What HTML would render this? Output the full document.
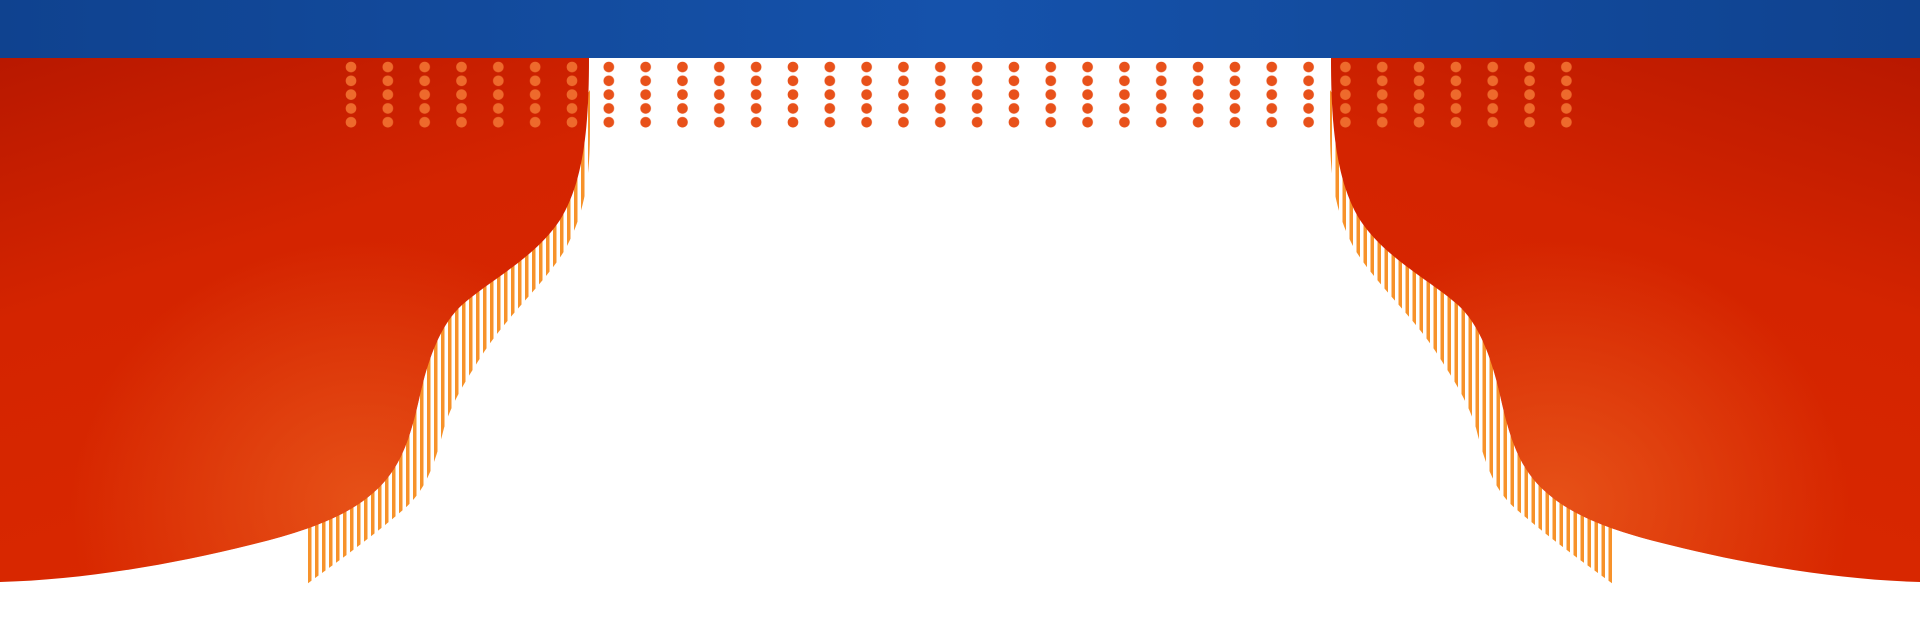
<!DOCTYPE html>
<html><head><meta charset="utf-8"><style>
html,body{margin:0;padding:0;background:#fff;width:1920px;height:621px;overflow:hidden}
svg{display:block}
</style></head><body>
<svg width="1920" height="621" viewBox="0 0 1920 621" xmlns="http://www.w3.org/2000/svg">
<defs>
<pattern id="st" width="7" height="10" patternUnits="userSpaceOnUse">
<rect x="0" y="0" width="3.5" height="10" fill="#f7922a"/>
</pattern>
<pattern id="dl" x="332.585" y="60" width="36.83" height="13.8" patternUnits="userSpaceOnUse">
<circle cx="18.415" cy="7" r="5.3" fill="#ee6a2c"/>
</pattern>
<pattern id="dd" x="332.585" y="60" width="36.83" height="13.8" patternUnits="userSpaceOnUse">
<circle cx="18.415" cy="7" r="5.3" fill="#e8511a"/>
</pattern>
<linearGradient id="cg" x1="0" y1="0" x2="0.35" y2="1">
<stop offset="0" stop-color="#b81800"/>
<stop offset="0.45" stop-color="#d42400"/>
<stop offset="1" stop-color="#d92800"/>
</linearGradient>
<radialGradient id="og" cx="0.62" cy="0.85" r="0.5">
<stop offset="0" stop-color="#e8561a" stop-opacity="0.9"/>
<stop offset="1" stop-color="#e8561a" stop-opacity="0"/>
</radialGradient>
<linearGradient id="bg" x1="0" y1="0" x2="1" y2="0">
<stop offset="0" stop-color="#0f428f"/>
<stop offset="0.3" stop-color="#134c9f"/>
<stop offset="0.5" stop-color="#1552ac"/>
<stop offset="0.7" stop-color="#134c9f"/>
<stop offset="1" stop-color="#0f428f"/>
</linearGradient>
<g id="cur">
<path d="M590,90 L590,127 C590,175 586,210 566,248 C546,282 508,315 484,352 C466,380 452,402 444,428 C434,468 424,492 404,509 C372,537 340,560 307,584 L307,520 Z" fill="url(#st)"/>
<path d="M0,58 L589,58 C589,120 585,180 560,220 C535,258 490,280 462,305 C440,325 428,360 420,395 C410,440 400,470 373,493 C345,518 300,533 250,545 C170,565 80,580 0,582 Z" fill="url(#cg)"/>
<path d="M0,58 L589,58 C589,120 585,180 560,220 C535,258 490,280 462,305 C440,325 428,360 420,395 C410,440 400,470 373,493 C345,518 300,533 250,545 C170,565 80,580 0,582 Z" fill="url(#og)"/>
</g>
</defs>
<rect x="0" y="0" width="1920" height="58" fill="url(#bg)"/>
<use href="#cur"/>
<use href="#cur" transform="translate(1920,0) scale(-1,1)"/>
<rect x="332" y="60" width="258" height="70" fill="url(#dl)"/>
<rect x="590" y="60" width="737" height="70" fill="url(#dd)"/>
<rect x="1327" y="60" width="260" height="70" fill="url(#dl)"/>
</svg>
</body></html>
